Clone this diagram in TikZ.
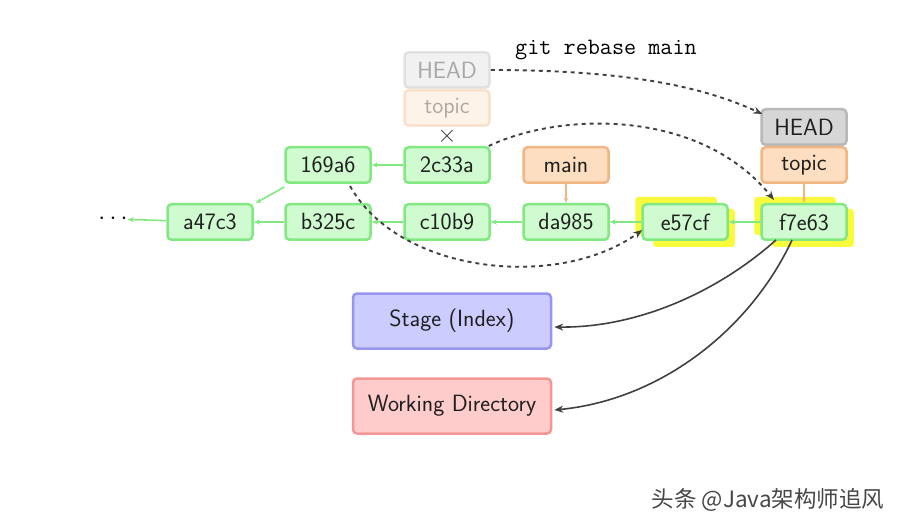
\documentclass[tikz,border=0pt]{standalone}
\usepackage{fontspec}
\newfontfamily\cjk{Noto Sans CJK SC}
\usetikzlibrary{arrows.meta}
\pgfdeclarelayer{bg}
\pgfsetlayers{bg,main}
\definecolor{cgreen}{RGB}{208,250,208}
\definecolor{cgreenb}{RGB}{130,232,130}
\definecolor{cgray}{RGB}{214,214,214}
\definecolor{cgrayb}{RGB}{184,184,184}
\definecolor{corange}{RGB}{253,222,192}
\definecolor{coranb}{RGB}{240,182,132}
\definecolor{cblue}{RGB}{204,204,255}
\definecolor{cblueb}{RGB}{150,150,238}
\definecolor{cred}{RGB}{255,204,204}
\definecolor{credb}{RGB}{242,150,150}
\definecolor{cyel}{RGB}{250,250,60}
\definecolor{cdark}{RGB}{64,64,64}
\tikzset{
  base/.style={rounded corners=4pt, line width=2.5pt, font=\sffamily\fontsize{23.5}{26}\selectfont, text=black!88, inner sep=0pt},
  commit/.style={base, draw=cgreenb, fill=cgreen, minimum width=85pt, minimum height=35.5pt},
  headbox/.style={base, draw=cgrayb, fill=cgray, minimum width=85pt, minimum height=35.5pt},
  branch/.style={base, draw=coranb, fill=corange, minimum width=85pt, minimum height=35.5pt},
  area/.style={base, minimum width=198pt, minimum height=55pt},
  garrow/.style={draw=cgreenb, line width=1.6pt, -{Stealth[length=6pt,width=5pt]}},
  oarrow/.style={draw=coranb, line width=1.2pt, -{Stealth[length=5pt,width=4pt]}},
  darrow/.style={draw=cdark, line width=1.9pt, dash pattern=on 4pt off 4pt, -{Stealth[length=9pt,width=7pt]}},
  sarrow/.style={draw=cdark, line width=1.6pt, -{Stealth[length=9pt,width=7pt]}},
  yshadow/.style={fill=cyel, rounded corners=3pt},
  wmark/.style={font=\cjk\fontsize{22.5}{24}\selectfont, inner sep=0pt}
}
\begin{document}
\begin{tikzpicture}[x=1pt,y=-1pt]
\useasboundingbox (0,0) rectangle (907,529);

% old refs (faded)
\begin{scope}[opacity=0.35]
\node[headbox] (headold) at (447,70) {HEAD};
\node[branch] (topicold) at (447,108) {topic};
\end{scope}
\node[text=cdark, font=\fontsize{26}{26}\selectfont] (cross) at (447,136) {$\times$};

\node[commit] (c169) at (328,165) {169a6};
\node[commit] (c2c3) at (447,165) {2c33a};
\node[branch] (main) at (566,165) {main};
\node[headbox] (headnew) at (804,127) {HEAD};
\node[branch] (topicnew) at (804,165) {topic};

\node[commit] (ca47) at (210,222) {a47c3};
\node[commit] (cb32) at (328,222) {b325c};
\node[commit] (cc10) at (447,222) {c10b9};
\node[commit] (cda9) at (566,222) {da985};
\node[commit] (ce57) at (685,222) {e57cf};
\node[commit] (cf7e) at (804,222) {f7e63};
\node[font=\fontsize{24}{26}\selectfont, inner sep=0pt] (dots) at (113,219) {$\cdots$};

\node[area, draw=cblueb, fill=cblue] (stage) at (452,321) {Stage (Index)};
\node[area, draw=credb, fill=cred] (wd) at (452,406) {Working Directory};

\node[font=\ttfamily\fontsize{23.5}{26}\selectfont, inner sep=0pt] (cmd) at (606,50) {git rebase main};

% yellow shadows
\begin{pgfonlayer}{bg}
\foreach \n in {ce57,cf7e}{
  \fill[yshadow] ([shift={(-6pt,6pt)}]\n.north west) rectangle ([shift={(-12pt,6pt)}]\n.south east);
  \fill[yshadow] ([shift={(12pt,-6pt)}]\n.north west) rectangle ([shift={(6pt,-6pt)}]\n.south east);
}
\end{pgfonlayer}

% commit arrows
\draw[garrow] ([yshift=-3pt]c169.south west) -- ([xshift=2pt]ca47.north east);
\draw[garrow] (c2c3) -- (c169);
\draw[garrow] (ca47) -- (dots);
\draw[garrow] (cb32) -- (ca47);
\draw[garrow] (cc10) -- (cb32);
\draw[garrow] (cda9) -- (cc10);
\draw[garrow] (ce57) -- (cda9);
\draw[garrow] (cf7e) -- (ce57);

% branch arrows
\draw[oarrow] (main) -- (cda9);
\draw[oarrow] (topicnew) -- (cf7e);

% dashed moves
\draw[darrow] (headold.east) .. controls (620,70) and (700,85) .. ([xshift=2pt,yshift=-6pt]headnew.north west);
\draw[darrow] ([xshift=-2pt]c2c3.north east) .. controls (560,112) and (700,108) .. ([xshift=-30pt,yshift=3pt]cf7e.north);
\draw[darrow] ([xshift=22pt,yshift=-2pt]c169.south) .. controls (400,275) and (560,290) .. ([xshift=1pt,yshift=11pt]ce57.south west);

% solid to stage / wd
\coordinate (fa) at (776,240);
\coordinate (fb) at (792,240);
\draw[sarrow] (fa) .. controls (720,290) and (640,328) .. ([xshift=2pt,yshift=-6pt]stage.east);
\draw[sarrow] (fb) .. controls (750,330) and (660,400) .. ([xshift=2pt,yshift=-4pt]wd.east);

% watermark
\node[wmark, text=white] (wmshadow) at (767.2,499.2) {头条 @Java架构师追风};
\node[wmark, text=black!72] (wm) at (768,500) {头条 @Java架构师追风};
\end{tikzpicture}
\end{document}
